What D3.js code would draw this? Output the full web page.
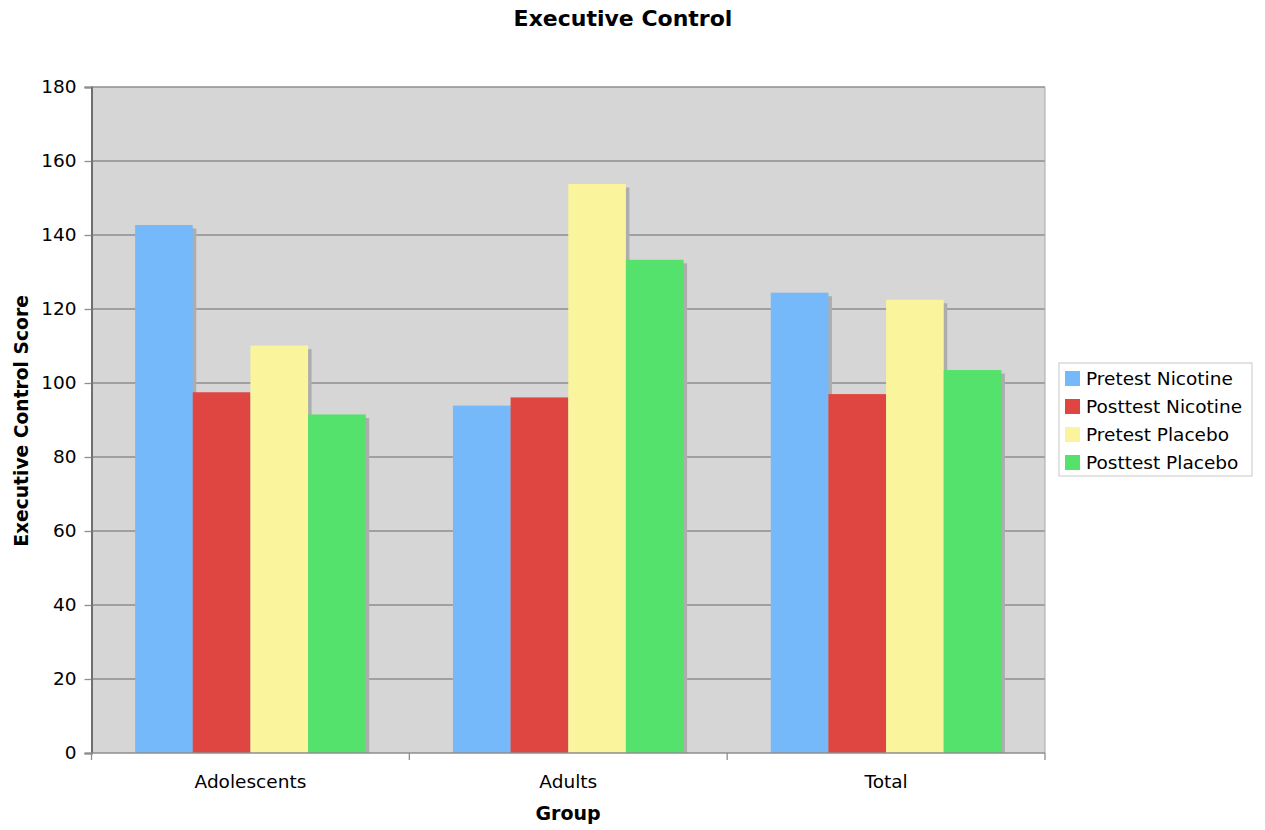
<!DOCTYPE html>
<html>
<head>
<meta charset="utf-8">
<script src="https://cdn.jsdelivr.net/npm/d3@7"></script>
<style>
  body { margin: 0; background: #fff; }
  svg { display: block; font-family: "DejaVu Sans", Verdana, sans-serif; }
</style>
</head>
<body>
<svg id="chart" width="1265" height="830"></svg>
<script>
// Executive control scores by group and condition
const groups = ["Adolescents", "Adults", "Total"];
const seriesNames = ["Pretest Nicotine", "Posttest Nicotine", "Pretest Placebo", "Posttest Placebo"];
const pretestNicotine = [142.7, 93.9, 124.4];
const posttestNicotine = [97.5, 96.1, 97.0];
const pretestPlacebo = [110.1, 153.8, 122.5];
const posttestPlacebo = [91.5, 133.3, 103.5];
const yTicks = [0, 20, 40, 60, 80, 100, 120, 140, 160, 180];
const colors = ["#76b9fb", "#e04641", "#faf49c", "#55e26c"];

const seriesValues = [pretestNicotine, posttestNicotine, pretestPlacebo, posttestPlacebo];

const svg = d3.select("#chart");
const plot = { left: 91.5, right: 1045, top: 87, bottom: 753 };

const x0 = d3.scaleBand().domain(groups).range([plot.left, plot.right]).paddingInner(0).paddingOuter(0);
const x1 = d3.scaleBand().domain(seriesNames).range([0, x0.bandwidth()]).paddingOuter(0.756).paddingInner(0);
const y = d3.scaleLinear().domain([0, 180]).range([plot.bottom, plot.top]);

// plot background
svg.append("rect")
  .attr("x", plot.left).attr("y", plot.top)
  .attr("width", plot.right - plot.left).attr("height", plot.bottom - plot.top)
  .attr("fill", "#d6d6d6");

// horizontal gridlines
svg.append("g").selectAll("line")
  .data(yTicks.filter(t => t > 0))
  .join("line")
  .attr("x1", plot.left).attr("x2", plot.right)
  .attr("y1", d => y(d)).attr("y2", d => y(d))
  .attr("stroke", "#8e8e8e").attr("stroke-width", 1.3);

// right border of plot
svg.append("line")
  .attr("x1", plot.right).attr("x2", plot.right)
  .attr("y1", plot.top).attr("y2", plot.bottom)
  .attr("stroke", "#a8a8a8").attr("stroke-width", 1);

// bars with drop shadows
const barGroups = svg.append("g").selectAll("g")
  .data(groups)
  .join("g")
  .attr("transform", d => `translate(${x0(d)},0)`);

const barData = (g, gi) => seriesNames.map((s, si) => ({ s, si, v: seriesValues[si][gi] }));

barGroups.each(function (g, gi) {
  const sel = d3.select(this);
  const data = barData(g, gi);
  sel.selectAll("rect.shadow")
    .data(data)
    .join("rect")
    .attr("class", "shadow")
    .attr("x", d => x1(d.s) + 3.5)
    .attr("y", d => y(d.v) + 3.5)
    .attr("width", x1.bandwidth())
    .attr("height", d => plot.bottom - y(d.v) - 3.5)
    .attr("fill", "#adadad");
  sel.selectAll("rect.bar")
    .data(data)
    .join("rect")
    .attr("class", "bar")
    .attr("x", d => x1(d.s))
    .attr("y", d => y(d.v))
    .attr("width", x1.bandwidth())
    .attr("height", d => plot.bottom - y(d.v))
    .attr("fill", d => colors[d.si]);
});

// y axis
const yAxis = d3.axisLeft(y).tickValues(yTicks).tickSize(7).tickPadding(8);
const yg = svg.append("g").attr("transform", `translate(${plot.left},0)`).call(yAxis);
yg.select(".domain").attr("stroke", "#6f6f6f").attr("stroke-width", 2);
yg.selectAll(".tick line").attr("stroke", "#8e8e8e").attr("stroke-width", 1.3);
yg.selectAll(".tick text").attr("font-size", 18.5).attr("fill", "#000")
  .attr("font-family", "'DejaVu Sans', Verdana, sans-serif");

// x axis: ticks at category boundaries, labels centered
svg.append("line")
  .attr("x1", plot.left).attr("x2", plot.right)
  .attr("y1", plot.bottom).attr("y2", plot.bottom)
  .attr("stroke", "#8e8e8e").attr("stroke-width", 1.5);
const boundaries = groups.map(g => x0(g)).concat([plot.right]);
svg.append("g").selectAll("line")
  .data(boundaries)
  .join("line")
  .attr("x1", d => d).attr("x2", d => d)
  .attr("y1", plot.bottom).attr("y2", plot.bottom + 7)
  .attr("stroke", "#8e8e8e").attr("stroke-width", 1.3);
svg.append("g").selectAll("text")
  .data(groups)
  .join("text")
  .attr("x", d => x0(d) + x0.bandwidth() / 2)
  .attr("y", 788)
  .attr("text-anchor", "middle")
  .attr("font-size", 18.5)
  .text(d => d);

// titles
svg.append("text")
  .attr("x", 623).attr("y", 26)
  .attr("text-anchor", "middle")
  .attr("font-size", 22).attr("font-weight", "bold")
  .text("Executive Control");
svg.append("text")
  .attr("x", 568).attr("y", 820)
  .attr("text-anchor", "middle")
  .attr("font-size", 19).attr("font-weight", "bold")
  .text("Group");
svg.append("text")
  .attr("transform", "translate(28,421) rotate(-90)")
  .attr("text-anchor", "middle")
  .attr("font-size", 18.7).attr("font-weight", "bold")
  .text("Executive Control Score");

// legend
const legend = svg.append("g").attr("transform", "translate(1059,363)");
legend.append("rect")
  .attr("x", 0).attr("y", 0).attr("width", 193).attr("height", 113)
  .attr("fill", "#fff").attr("stroke", "#c8c8c8").attr("stroke-width", 1);
const items = legend.selectAll("g.item")
  .data(seriesNames)
  .join("g")
  .attr("class", "item")
  .attr("transform", (d, i) => `translate(0,${15 + i * 28})`);
items.append("rect")
  .attr("x", 6).attr("y", -7).attr("width", 15).attr("height", 15)
  .attr("fill", (d, i) => colors[i]);
items.append("text")
  .attr("x", 27).attr("y", 6.5)
  .attr("font-size", 18.5)
  .text(d => d);
</script>
</body>
</html>
